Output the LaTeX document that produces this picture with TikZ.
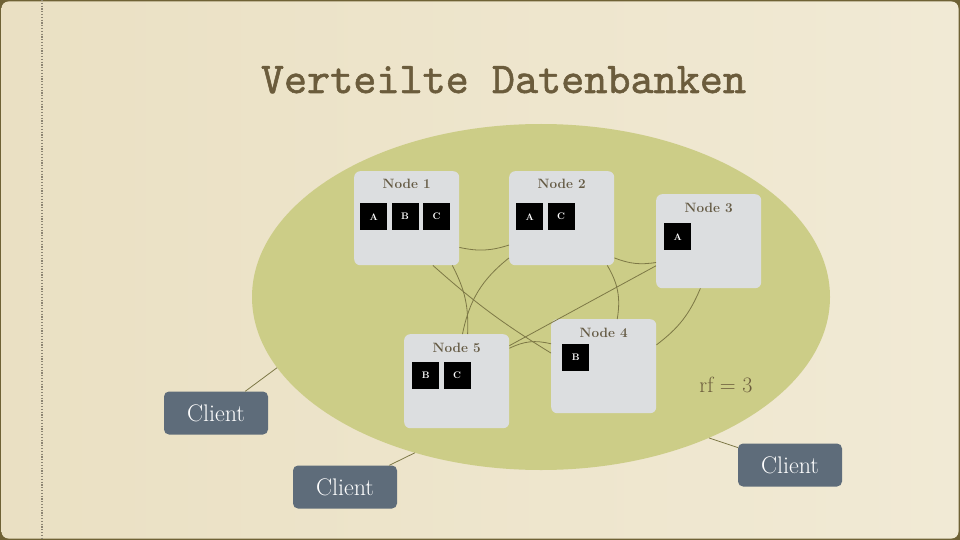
\documentclass[tikz,border=0pt]{standalone}
\usepackage{xcolor}
\usepackage{fontspec}
\newfontfamily\titlefont[FakeBold=1.2]{lmmono10-regular.otf}
\usetikzlibrary{positioning, shapes.geometric}
\definecolor{slideBg}{HTML}{EAE0C3}
\definecolor{slideBgLight}{HTML}{F1EAD5}
\definecolor{slideFrame}{HTML}{6F6235}
\definecolor{slideDots}{HTML}{8C8473}
\definecolor{clusterGreen}{HTML}{CCCD87}
\definecolor{boxGray}{HTML}{DCDEE0}
\definecolor{clientSlate}{HTML}{5E6C7A}
\definecolor{inkBrown}{HTML}{6B5C3C}
\definecolor{labelBrown}{HTML}{655B45}
\definecolor{linkOlive}{HTML}{7D7846}

\begin{document}
\begin{tikzpicture}[
  x=1pt, y=1pt,
  node distance=4pt,
  cluster/.style={ellipse, fill=clusterGreen, minimum width=578pt, minimum height=346pt, inner sep=0pt},
  server/.style={fill=boxGray, rounded corners=6pt, minimum width=105pt, minimum height=94pt, inner sep=0pt, anchor=north west},
  head/.style={font=\bfseries\fontsize{13.5}{13.5}\selectfont, text=labelBrown, anchor=base, yshift=-18pt},
  shard/.style={fill=black, text=white, minimum size=27pt, inner sep=0pt, font=\bfseries\fontsize{9.5}{9.5}\selectfont},
  client/.style={fill=clientSlate, rounded corners=5pt, text=white, minimum width=104pt, minimum height=43pt, inner sep=0pt, font=\fontsize{24}{24}\selectfont},
  link/.style={draw=linkOlive, line width=0.8pt}
]
\useasboundingbox (0,0) rectangle (960,-540);
\fill[slideFrame] (0,0) rectangle (960,-540);
\shade[rounded corners=7pt, left color=slideBg, right color=slideBgLight] (1.5,-1.5) rectangle (958.5,-538.5);
\draw[slideDots, line width=1.2pt, dash pattern=on 1.2pt off 1.6pt] (42,0) -- (42,-540);

\node[font=\titlefont\fontsize{44}{44}\selectfont, text=inkBrown, anchor=base] (title) at (503.5,-93) {Verteilte Datenbanken};

\node[cluster] (cluster) at (541,-297) {};

\node[server] (n1) at (354,-171) {};
\node[server] (n2) at (509,-171) {};
\node[server] (n3) at (656,-194) {};
\node[server] (n4) at (551,-319) {};
\node[server] (n5) at (404,-334) {};

\node[head] (h1) at (n1.north) {Node 1};
\node[head] (h2) at (n2.north) {Node 2};
\node[head] (h3) at (n3.north) {Node 3};
\node[head] (h4) at (n4.north) {Node 4};
\node[head] (h5) at (n5.north) {Node 5};

\node[shard, anchor=north west, xshift=6pt, yshift=-32pt] (s1a) at (n1.north west) {A};
\node[shard, right=of s1a] (s1b) {B};
\node[shard, right=of s1b] (s1c) {C};
\node[shard, anchor=north west, xshift=7pt, yshift=-32pt] (s2a) at (n2.north west) {A};
\node[shard, right=of s2a] (s2c) {C};
\node[shard, anchor=north west, xshift=8pt, yshift=-29pt] (s3a) at (n3.north west) {A};
\node[shard, anchor=north west, xshift=11pt, yshift=-25pt] (s4b) at (n4.north west) {B};
\node[shard, anchor=north west, xshift=8pt, yshift=-28pt] (s5b) at (n5.north west) {B};
\node[shard, right=of s5b] (s5c) {C};

\draw[link] (n1.-29) to[bend right=15] (n2.207);
\draw[link] (n2.-37) to[bend right=15] (n3.202);
\draw[link] (n1.-61) to[bend right=5] (n4.166);
\draw[link] (n1.-46) to[bend left=15] (n5.77);
\draw[link] (n2.217) to[bend right=20] (n5.83);
\draw[link] (n3.205) -- (n5.34);
\draw[link] (n5.32) to[bend left=20] (n4.157);
\draw[link] (n2.-46) to[bend left=20] (n4.74);
\draw[link] (n3.260) to[bend left=15] (n4.22);

\node[font=\fontsize{22}{22}\selectfont, text=inkBrown] (rf) at (726,-385) {rf = 3};

\node[client] (c1) at (216,-413) {Client};
\node[client] (c2) at (345,-487) {Client};
\node[client] (c3) at (790,-465) {Client};

\draw[link] (c1) -- (cluster.195);
\draw[link] (c2) -- (cluster.231);
\draw[link] (c3) -- (cluster.320);
\end{tikzpicture}
\end{document}
